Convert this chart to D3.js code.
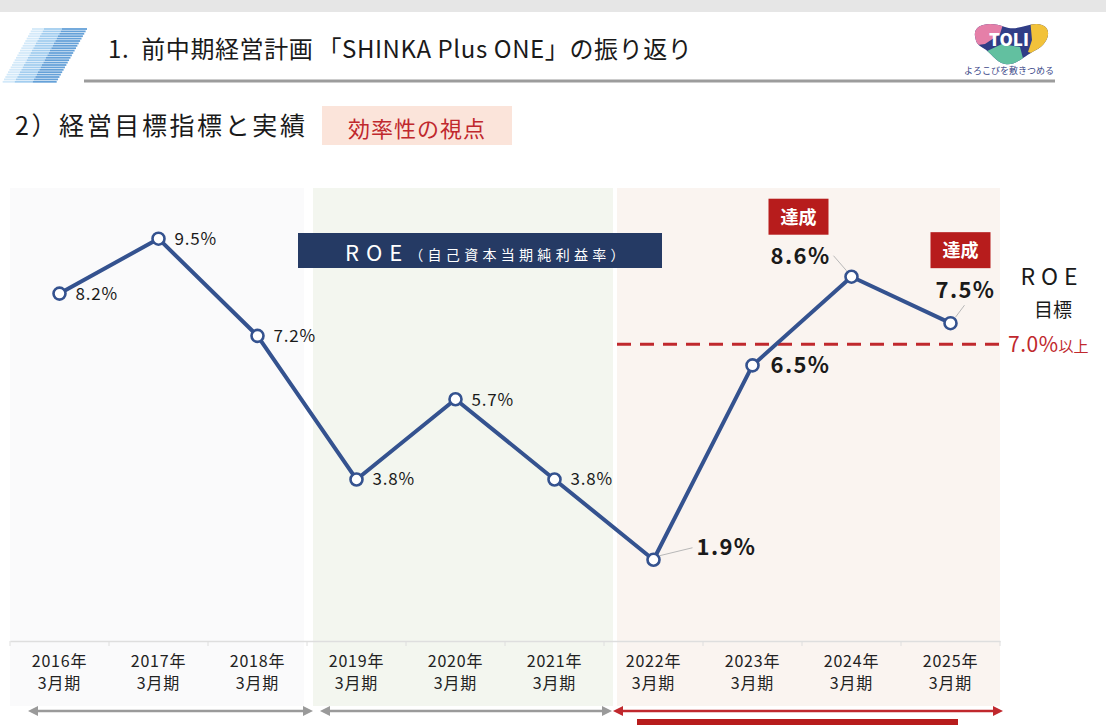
<!DOCTYPE html>
<html>
<head>
<meta charset="utf-8">
<script src="https://cdn.jsdelivr.net/npm/d3@7"></script>
<style>
  body { margin: 0; background: #fff; }
  svg { display: block; font-family: "Noto Sans CJK JP", "Noto Sans", sans-serif; }
</style>
</head>
<body>
<svg id="chart" width="1106" height="725"></svg>
<script>
// ---- data ----
var fiscalYears = ["2016年", "2017年", "2018年", "2019年", "2020年", "2021年", "2022年", "2023年", "2024年", "2025年"];
var periodSuffix = "3月期";
var roeValues = [8.2, 9.5, 7.2, 3.8, 5.7, 3.8, 1.9, 6.5, 8.6, 7.5];
var roeTarget = 7.0;
var achievedYears = ["2024年", "2025年"];
var periodFirstYear = ["2016年", "2019年", "2022年"];
var periodLastYear = ["2018年", "2021年", "2025年"];

// ---- layout / styles ----
var panelFill = ["#fafafb", "#f3f6ef", "#faf4f0"];
var panelPad = [[0, -3], [6, 9], [13, 0]];
var arrowPad = [[23, 1], [18, 3], [14, -2]];
var arrowColor = ["#9a9a9a", "#9a9a9a", "#c0282d"];
// label offsets from each point: dx, dy, anchor, leader line [x1,y1,x2,y2] or null
var labelPos = [
  [16, 6, "start", null], [16, 6, "start", null], [16, 6, "start", null],
  [16, 6, "start", null], [16, 7, "start", null], [16, 6, "start", null],
  [43, -5, "start", [6, -4, 39, -12]],
  [18, 8, "start", null],
  [-21, -13, "end", [-18, -21, -5, -6]],
  [15, -25, "middle", [14, -18, 5, -6]]
];
var badgePos = {"2024年": [-83, -78], "2025年": [-20, -91]};

var svg = d3.select("#chart");
var navy = "#253a64", lineBlue = "#34528f", red = "#c0282d";

var x = d3.scaleBand().domain(fiscalYears).range([10, 1000]);
var y = d3.scaleLinear().domain([0, 10.7]).range([640, 188]);
var bw = x.bandwidth();
var cx = function(d) { return x(d) + bw / 2; };

/////////////// header ///////////////
svg.append("rect").attr("x", 0).attr("y", 0).attr("width", 1106).attr("height", 12).attr("fill", "#e6e6e6");

// striped slanted decoration
var stripes = [
  {top: [32, 44], bot: [2, 14], color: "#d3e9f9"},
  {top: [44, 62], bot: [14, 32], color: "#a2cdef"},
  {top: [62, 87], bot: [32, 56], color: "#65a1d8"}
];
var deco = svg.append("g");
stripes.forEach(function(s) {
  for (var yy = 29; yy <= 83; yy += 2.4) {
    var t = (yy - 29) / 54;
    var x0 = s.top[0] + (s.bot[0] - s.top[0]) * t;
    var x1 = s.top[1] + (s.bot[1] - s.top[1]) * t;
    deco.append("line").attr("x1", x0).attr("x2", x1).attr("y1", yy).attr("y2", yy)
      .attr("stroke", s.color).attr("stroke-width", 1.8);
  }
});

var title = svg.append("text").attr("x", 108).attr("y", 58)
  .attr("font-size", 24).attr("fill", "#1a1a1a").attr("letter-spacing", 0.6);
title.append("tspan").text("1.");
title.append("tspan").attr("dx", 12).text("前中期経営計画");
title.append("tspan").attr("dx", 4).text("「SHINKA Plus ONE」の振り返り");
svg.append("line").attr("x1", 84).attr("x2", 1055).attr("y1", 81).attr("y2", 81)
  .attr("stroke", "#9c9c9c").attr("stroke-width", 3);

// logo
var logo = svg.append("g");
var blob = "M975,36 C973,24 990,21 1005,27 C1018,32 1030,21 1042,25 C1053,29 1048,44 1036,50 C1024,56 1016,66 1005,64 C995,62 991,52 983,48 C976,44 976,41 975,36 Z";
logo.append("clipPath").attr("id", "logoclip").append("path").attr("d", blob);
var lg = logo.append("g").attr("clip-path", "url(#logoclip)");
lg.append("rect").attr("x", 970).attr("y", 18).attr("width", 85).attr("height", 50).attr("fill", "#303d86");
lg.append("path").attr("d", "M970,18 L1005,18 L1000,34 L985,44 L970,46 Z").attr("fill", "#e57fa8");
lg.append("path").attr("d", "M1030,18 L1055,18 L1055,60 L1028,52 L1032,40 Z").attr("fill", "#f2c23a");
lg.append("path").attr("d", "M985,52 L1002,44 L1020,47 L1026,70 L985,70 Z").attr("fill", "#62c0a0");
logo.append("text").attr("x", 1009).attr("y", 46).attr("text-anchor", "middle")
  .attr("font-size", 17).attr("font-weight", 900).attr("fill", "#fff").text("TOLI");
logo.append("text").attr("x", 1009).attr("y", 74).attr("text-anchor", "middle")
  .attr("font-size", 9).attr("fill", "#3e4a8a").text("よろこびを敷きつめる");

// section heading
svg.append("text").attr("x", 15).attr("y", 135).attr("font-size", 25).attr("fill", "#1a1a1a")
  .attr("letter-spacing", 2.6).text("2）経営目標指標と実績");
svg.append("rect").attr("x", 322).attr("y", 106).attr("width", 190).attr("height", 39).attr("fill", "#fbe4da");
svg.append("text").attr("x", 417).attr("y", 137).attr("text-anchor", "middle")
  .attr("font-size", 22).attr("fill", red).attr("letter-spacing", 1).text("効率性の視点");

/////////////// panels ///////////////
svg.append("g").selectAll("rect")
  .data(periodFirstYear)
  .enter().append("rect")
  .attr("x", function(d, i) { return x(d) + panelPad[i][0]; })
  .attr("y", y(10.7))
  .attr("width", function(d, i) { return x(periodLastYear[i]) + bw + panelPad[i][1] - x(d) - panelPad[i][0]; })
  .attr("height", 706 - y(10.7))
  .attr("fill", function(d, i) { return panelFill[i]; });

/////////////// axis ///////////////
var axisG = svg.append("g").attr("transform", "translate(0," + (y(0) + 1) + ")")
  .call(d3.axisBottom(x).tickSize(0).tickFormat(""));
axisG.select(".domain").attr("stroke", "#dedede").attr("stroke-width", 1.5);
axisG.selectAll(".tick").each(function(d) {
  var t = d3.select(this).append("text").attr("fill", "#222").attr("font-size", 16)
    .attr("letter-spacing", 0.8).attr("text-anchor", "middle")
    .attr("font-family", "'Noto Sans CJK JP', sans-serif");
  t.append("tspan").attr("x", 0).attr("y", 26).text(d);
  t.append("tspan").attr("x", 0).attr("y", 48).text(periodSuffix);
});
svg.append("g").selectAll("line")
  .data(fiscalYears.concat(["end"]))
  .enter().append("line")
  .attr("x1", function(d, i) { return x.range()[0] + i * x.step(); })
  .attr("x2", function(d, i) { return x.range()[0] + i * x.step(); })
  .attr("y1", y(0) + 1).attr("y2", y(0) + 6)
  .attr("stroke", "#dedede").attr("stroke-width", 1);

// period arrows
var defs = svg.append("defs");
arrowColor.forEach(function(c, i) {
  ["s", "e"].forEach(function(k) {
    defs.append("marker").attr("id", "ar" + k + i).attr("viewBox", "0 0 10 10")
      .attr("refX", 5).attr("refY", 5).attr("markerWidth", 4).attr("markerHeight", 4)
      .attr("orient", k == "s" ? "auto-start-reverse" : "auto")
      .append("path").attr("d", "M0,0 L10,5 L0,10 Z").attr("fill", c);
  });
});
svg.append("g").selectAll("line")
  .data(periodFirstYear)
  .enter().append("line")
  .attr("x1", function(d, i) { return x(d) + arrowPad[i][0]; })
  .attr("x2", function(d, i) { return x(periodLastYear[i]) + bw + arrowPad[i][1]; })
  .attr("y1", 711).attr("y2", 711)
  .attr("stroke", function(d, i) { return arrowColor[i]; })
  .attr("stroke-width", 2.5)
  .attr("marker-start", function(d, i) { return "url(#ars" + i + ")"; })
  .attr("marker-end", function(d, i) { return "url(#are" + i + ")"; });
svg.append("rect").attr("x", x("2022年") + 33).attr("y", 719)
  .attr("width", x("2025年") + bw - 42 - x("2022年") - 33).attr("height", 8).attr("fill", "#b71c1c");

/////////////// banner ///////////////
svg.append("rect").attr("x", 298).attr("y", 233).attr("width", 364).attr("height", 35).attr("fill", navy);
var bt = svg.append("text").attr("x", 345).attr("y", 261).attr("fill", "#fff");
bt.append("tspan").attr("font-size", 22).attr("letter-spacing", 7).text("ROE");
bt.append("tspan").attr("font-size", 14).attr("letter-spacing", 4.3).attr("dy", -1).text("（自己資本当期純利益率）");

/////////////// target line ///////////////
var tl = svg.append("g");
tl.append("line").attr("x1", x("2022年") + 13).attr("x2", x.range()[1])
  .attr("y1", y(roeTarget)).attr("y2", y(roeTarget))
  .attr("stroke", red).attr("stroke-width", 3).attr("stroke-dasharray", "14,9");
var tt = tl.append("text").attr("x", 1008).attr("y", y(roeTarget) + 8).attr("fill", red);
tt.append("tspan").attr("font-size", 21).attr("letter-spacing", 0.5).text(d3.format(".1f")(roeTarget) + "%");
tt.append("tspan").attr("font-size", 15).text("以上");
tl.append("text").attr("x", 1052).attr("y", 285).attr("text-anchor", "middle")
  .attr("font-size", 23).attr("letter-spacing", 6).attr("fill", "#1a1a1a").text("ROE");
tl.append("text").attr("x", 1053).attr("y", 317).attr("text-anchor", "middle")
  .attr("font-size", 19).attr("fill", "#1a1a1a").text("目標");

/////////////// line ///////////////
var pts = fiscalYears.map(function(d, i) { return {year: d, v: roeValues[i], i: i}; });
svg.append("path").datum(pts)
  .attr("d", d3.line().x(function(d) { return cx(d.year); }).y(function(d) { return y(d.v); }))
  .attr("fill", "none").attr("stroke", lineBlue).attr("stroke-width", 4).attr("stroke-linejoin", "round");

// leader lines
svg.append("g").selectAll("line")
  .data(pts.filter(function(d) { return labelPos[d.i][3]; }))
  .enter().append("line")
  .attr("x1", function(d) { return cx(d.year) + labelPos[d.i][3][0]; })
  .attr("y1", function(d) { return y(d.v) + labelPos[d.i][3][1]; })
  .attr("x2", function(d) { return cx(d.year) + labelPos[d.i][3][2]; })
  .attr("y2", function(d) { return y(d.v) + labelPos[d.i][3][3]; })
  .attr("stroke", "#b8b8b8").attr("stroke-width", 1);

svg.append("g").selectAll("circle")
  .data(pts).enter().append("circle")
  .attr("cx", function(d) { return cx(d.year); })
  .attr("cy", function(d) { return y(d.v); })
  .attr("r", 6).attr("fill", "#fff").attr("stroke", lineBlue).attr("stroke-width", 2.6);

svg.append("g").selectAll("text")
  .data(pts).enter().append("text")
  .attr("x", function(d) { return cx(d.year) + labelPos[d.i][0]; })
  .attr("y", function(d) { return y(d.v) + labelPos[d.i][1]; })
  .attr("text-anchor", function(d) { return labelPos[d.i][2]; })
  .attr("font-size", function(d) { return d.i >= 6 ? 22 : 17; })
  .attr("font-weight", function(d) { return d.i >= 6 ? 700 : 400; })
  .attr("letter-spacing", function(d) { return d.i >= 6 ? 1.4 : 0.8; })
  .attr("fill", "#1a1a1a")
  .text(function(d) { return d3.format(".1f")(d.v) + "%"; });

// 達成 badges
var badges = svg.append("g").selectAll("g")
  .data(pts.filter(function(d) { return achievedYears.indexOf(d.year) >= 0; }))
  .enter().append("g")
  .attr("transform", function(d) {
    var o = badgePos[d.year];
    return "translate(" + (cx(d.year) + o[0]) + "," + (y(d.v) + o[1]) + ")";
  });
badges.append("rect").attr("width", 60).attr("height", 36).attr("fill", "#b71c1c");
badges.append("text").attr("x", 30).attr("y", 25).attr("text-anchor", "middle")
  .attr("font-size", 18).attr("font-weight", 700).attr("fill", "#fff").text("達成");
</script>
</body>
</html>
